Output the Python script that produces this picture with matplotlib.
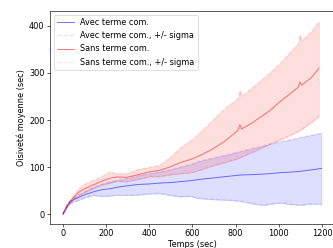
import matplotlib
matplotlib.use('Agg')
import matplotlib.pyplot as plt
import numpy as np

# temps (sec) et oisivete moyenne, avec terme de communication
t_avec = [0, 10, 20, 32, 50, 75, 100, 140, 180, 220, 250, 295, 350, 400, 449, 500,
          542, 593, 619, 700, 760, 819, 880, 927, 958, 1005, 1050, 1100, 1150, 1197]
moy_avec = [0, 9, 17, 25, 31, 36, 41, 47, 52, 54, 57, 60, 63, 64, 66, 67,
            69, 71, 73, 77, 80, 83, 84, 85, 86, 88, 89, 91, 94, 97]
haut_avec = [0, 10, 19, 27, 34, 41, 48, 57, 64, 69, 72, 76, 82, 86, 90, 95,
             100, 106, 111, 120, 126, 133, 140, 145, 149, 154, 158, 163, 168, 172]
bas_avec = [0, 8, 15, 22, 26, 30, 35, 40, 38, 39, 40, 40, 41, 43, 44, 40,
            37, 38, 34, 31, 30, 28, 22, 19, 21, 24, 21, 19, 22, 21]

# sans terme de communication
t_sans = [0, 10, 20, 32, 50, 75, 100, 140, 180, 218, 249, 295, 350, 403, 449, 500,
          542, 603, 650, 695, 750, 810, 819, 828, 880, 958, 1005, 1050, 1090, 1097,
          1105, 1150, 1185]
moy_sans = [0, 10, 19, 26, 36, 47, 54, 62, 70, 76, 79, 78, 84, 90, 93, 101,
            109, 118, 128, 139, 155, 178, 190, 181, 195, 220, 239, 255, 270, 281,
            274, 290, 310]
haut_sans = [0, 11, 21, 29, 40, 55, 64, 72, 80, 90, 86, 86, 95, 100, 104, 122,
             140, 160, 180, 200, 225, 245, 262, 250, 270, 300, 320, 343, 362, 380,
             368, 388, 409]
bas_sans = [0, 9, 17, 23, 32, 40, 46, 54, 62, 66, 70, 69, 74, 80, 80, 84,
            86, 89, 96, 103, 110, 118, 120, 122, 132, 149, 158, 167, 176, 178,
            180, 195, 208]

plt.rcParams['font.size'] = 10.5
fig = plt.figure(figsize=(333 / 56, 248 / 56), dpi=56)
ax = fig.add_axes([0.150, 0.097, 0.856, 0.859])

ax.plot(t_avec, moy_avec, color='b', alpha=0.55, lw=1.2, label='Avec terme com.')
ax.plot(t_avec, haut_avec, '--', color='b', alpha=0.12, label='Avec terme com., +/- sigma')
ax.plot(t_avec, bas_avec, '--', color='b', alpha=0.12)
ax.fill_between(t_avec, bas_avec, haut_avec, color='b', alpha=0.13)

ax.plot(t_sans, moy_sans, color='r', alpha=0.55, lw=1.2, label='Sans terme com.')
ax.plot(t_sans, haut_sans, '--', color='r', alpha=0.12, label='Sans terme com., +/- sigma')
ax.plot(t_sans, bas_sans, '--', color='r', alpha=0.12)
ax.fill_between(t_sans, bas_sans, haut_sans, color='r', alpha=0.13)

ax.set_xlim(-60, 1260)
ax.set_ylim(-21, 432)
ax.set_xticks(np.arange(0, 1201, 200))
ax.set_yticks(np.arange(0, 401, 100))
ax.set_xlabel('Temps (sec)', labelpad=2)
ax.set_ylabel('Oisiveté moyenne (sec)')
ax.legend(loc='upper left')

fig.savefig('out.png', dpi=56)
